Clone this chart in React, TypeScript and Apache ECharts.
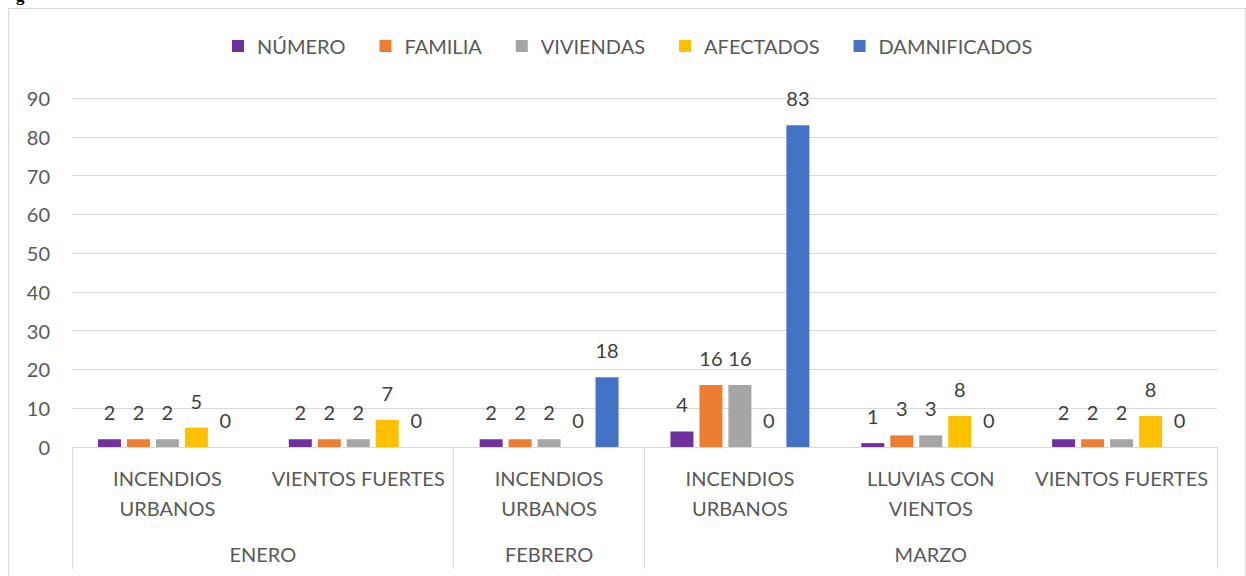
import React, { useEffect, useRef } from "react";
import * as echarts from "echarts";

const categories = [
  "INCENDIOS\nURBANOS",
  "VIENTOS FUERTES",
  "INCENDIOS\nURBANOS",
  "INCENDIOS\nURBANOS",
  "LLUVIAS CON\nVIENTOS",
  "VIENTOS FUERTES",
];
// second level (months) on a 13-point half-category scale
const monthSlots = ["", "", "ENERO", "", "", "FEBRERO", "", "", "", "MARZO", "", "", ""];
const monthBoundaries = [0, 4, 6, 12];

const numero = [2, 2, 2, 4, 1, 2];
const familia = [2, 2, 2, 16, 3, 2];
const viviendas = [2, 2, 2, 16, 3, 2];
const afectados = [5, 7, 0, 0, 8, 8];
const damnificados = [0, 0, 18, 83, 0, 0];

const seriesNames = ["NÚMERO", "FAMILIA", "VIVIENDAS", "AFECTADOS", "DAMNIFICADOS"];
const seriesData = [numero, familia, viviendas, afectados, damnificados];
const colors = ["#7030A0", "#ED7D31", "#A5A5A5", "#FFC000", "#4472C4"];

const FONT = "Lato, 'Open Sans', sans-serif";

export default function App() {
  const ref = useRef<HTMLDivElement>(null);

  useEffect(() => {
    if (!ref.current) return;
    const chart = echarts.init(ref.current, undefined, { renderer: "svg" });
    chart.setOption({
      animation: false,
      textStyle: { fontFamily: FONT },
      color: colors,
      legend: {
        left: 227,
        top: 31,
        icon: "rect",
        itemWidth: 12,
        itemHeight: 12,
        itemGap: 34,
        textStyle: { fontSize: 20, color: "#595959", fontFamily: FONT, padding: [0, 0, 0, 8] },
        data: seriesNames,
      },
      grid: { left: 72, right: 29, top: 98, bottom: 129, containLabel: false },
      xAxis: [
        {
          type: "category",
          data: categories,
          position: "bottom",
          axisLine: { show: true, lineStyle: { color: "#d9d9d9", width: 1 } },
          axisTick: { show: false },
          axisLabel: {
            interval: 0,
            margin: 16,
            fontSize: 20,
            lineHeight: 30,
            color: "#595959",
            fontFamily: FONT,
            verticalAlign: "top",
          },
        },
        {
          type: "category",
          data: monthSlots,
          position: "bottom",
          boundaryGap: false,
          axisLine: { show: false },
          axisTick: {
            show: true,
            length: 122,
            interval: (index: number) => monthBoundaries.includes(index),
            lineStyle: { color: "#d9d9d9", width: 1 },
          },
          axisLabel: {
            interval: 0,
            margin: 92,
            fontSize: 20,
            lineHeight: 30,
            color: "#595959",
            fontFamily: FONT,
            verticalAlign: "top",
          },
        },
      ],
      yAxis: {
        type: "value",
        min: 0,
        max: 90,
        interval: 10,
        axisLine: { show: false },
        axisTick: { show: false },
        axisLabel: { fontSize: 20, color: "#595959", margin: 22, fontFamily: FONT },
        splitLine: { lineStyle: { color: "#d9d9d9", width: 1 } },
      },
      series: seriesNames.map((name, i) => ({
        name,
        type: "bar",
        xAxisIndex: 0,
        data: seriesData[i],
        barWidth: 23,
        barGap: "26%",
        itemStyle: { color: colors[i] },
        label: {
          show: true,
          position: "top",
          distance: 17,
          fontSize: 20,
          color: "#404040",
          fontFamily: FONT,
        },
      })),
    });
    return () => chart.dispose();
  }, []);

  return (
    <div
      style={{
        position: "fixed",
        left: 0,
        top: 0,
        width: 1246,
        height: 576,
        overflow: "hidden",
        background: "#fff",
      }}
    >
      <span
        style={{
          position: "absolute",
          left: 16,
          top: -14,
          font: "bold 17px 'Liberation Serif', serif",
          color: "#000",
        }}
      >
        g
      </span>
      <div
        style={{
          position: "absolute",
          left: 8,
          top: 8,
          width: 1238,
          height: 600,
          boxSizing: "border-box",
          border: "1px solid #d9d9d9",
        }}
      />
      <div
        ref={ref}
        style={{ position: "absolute", left: 0, top: 0, width: 1246, height: 576 }}
      />
    </div>
  );
}
